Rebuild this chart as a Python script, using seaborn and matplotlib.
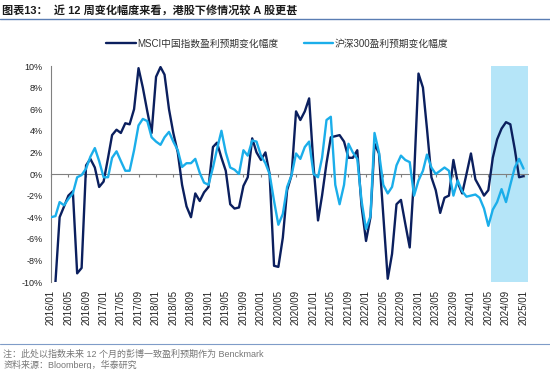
import numpy as np
import pandas as pd
import matplotlib
matplotlib.use('Agg')
import matplotlib.pyplot as plt
import matplotlib.dates as mdates
from matplotlib.lines import Line2D
import seaborn as sns

# monthly readings of the 12-week change (%), 2016/01 .. 2025/01
dates = pd.date_range('2016-01-01', '2025-01-01', freq='MS')

msci_chg = [
    np.nan, -10.0, -4.0, -3.0, -2.0, -1.6, -9.2, -8.7, 0.8, 1.4, 0.6, -1.2,     # 2016
    -0.7, 1.5, 3.6, 4.1, 3.8, 4.7, 4.6, 6.0, 9.8, 8.0, 5.8, 3.8,                # 2017
    9.0, 9.9, 9.2, 6.0, 3.8, 2.0, -1.0, -3.0, -4.0, -1.8, -2.5, -1.7,           # 2018
    -1.2, 2.5, 2.9, 1.5, 0.3, -2.8, -3.2, -3.1, -1.1, -0.3, 3.3, 2.0,           # 2019
    1.3, 2.0, 0.0, -8.5, -8.6, -5.9, -1.5, -0.1, 5.8, 5.0, 5.8, 7.0,            # 2020
    0.7, -4.3, -2.0, 1.0, 3.4, 3.5, 3.6, 3.0, 1.5, 1.5, 2.2, -3.0,              # 2021
    -6.2, -4.0, 2.8, 1.9, -3.8, -9.7, -7.4, -2.8, -2.4, -4.6, -6.8, -0.3,       # 2022
    9.3, 8.0, 4.2, -0.3, -1.5, -3.6, -2.2, -2.0, 1.3, -0.8, -1.8, 0.0,          # 2023
    1.9, -0.5, -1.2, -2.0, -1.5, 1.5, 3.2, 4.2, 4.8, 4.6, 2.3, -0.3,            # 2024
    -0.2,                                                                       # 2025
]

hs300_chg = [
    -4.0, -3.9, -2.6, -2.9, -2.3, -1.8, -0.3, -0.1, 0.5, 1.6, 2.4, 1.2,
    -0.3, -0.3, 1.5, 2.1, 1.2, 0.3, 0.3, 2.2, 4.5, 5.1, 4.9, 3.4,
    3.0, 2.7, 3.4, 3.9, 3.0, 2.2, 0.65, 1.0, 1.0, 1.4, 0.1, -0.8,
    -1.0, 0.6, 2.3, 4.0, 2.0, 0.6, 0.4, 0.0, 2.2, 1.7, 3.1, 3.0,
    1.7, 1.0, 0.0, -2.5, -4.7, -3.7, -1.2, -0.1, 1.9, 1.4, 2.5, 3.0,
    0.0, -0.3, 1.5, 5.0, 5.3, -1.0, -2.8, -1.0, 2.8, 2.0, 1.4, -2.5,
    -5.1, -3.9, 3.8, 2.0, -1.0, -1.8, -1.2, 0.8, 1.7, 1.3, 1.1, -2.0,
    -0.6, 0.3, 1.8, 0.6, 0.0, 0.3, 0.6, 0.3, -2.0, -0.6, -1.6, -2.1,
    -2.0, -1.9, -2.2, -3.2, -4.8, -3.3, -2.6, -1.4, -2.6, -1.0, 0.6, 1.4,
    0.5,
]

series_names = ['MSCI中国指数盈利预期变化幅度', '沪深300盈利预期变化幅度']
series_colors = ['#0B1F5E', '#1BAEEA']
tick_dates = pd.date_range('2016-01-01', '2025-01-01', freq='4MS')
y_ticks = list(range(-10, 11, 2))
highlight = (pd.Timestamp('2024-05-21'), pd.Timestamp('2025-02-01'))

title = '图表13：  近 12 周变化幅度来看，港股下修情况较 A 股更甚'
note = '注：此处以指数未来 12 个月的彭博一致盈利预期作为 Benckmark'
source = '资料来源：Bloomberg，华泰研究'

sns.set_style('white')
plt.rcParams['font.family'] = ['Liberation Sans', 'Noto Sans CJK SC', 'DejaVu Sans']

df = pd.DataFrame({
    'date': np.tile(dates, 2),
    'value': msci_chg + hs300_chg,
    'series': [series_names[0]] * len(dates) + [series_names[1]] * len(dates),
})

fig = plt.figure(figsize=(5.5, 3.69), dpi=100)
ax = fig.add_axes([51 / 550, 1 - 282 / 369, 477 / 550, 216 / 369])

ax.axvspan(*highlight, color='#B5E5F8', lw=0, zorder=0)
sns.lineplot(data=df, x='date', y='value', hue='series', hue_order=series_names,
             palette=series_colors, linewidth=1.7, ax=ax, zorder=3)

ax.set_xlim(pd.Timestamp('2016-01-01'), pd.Timestamp('2025-02-01'))
ax.set_ylim(-10, 10)
ax.set_xlabel('')
ax.set_ylabel('')

ax.set_yticks(y_ticks)
ax.set_yticklabels([f'{v}%' for v in y_ticks], fontsize=6.5, color='#222222')
ax.set_xticks(tick_dates)
ax.set_xticklabels([d.strftime('%Y/%m') for d in tick_dates], rotation=90,
                   fontsize=7, color='#222222')
ax.tick_params(axis='x', length=0, pad=5.5)
ax.tick_params(axis='y', length=3, width=0.8, color='#808080', direction='out', pad=3)

for side in ['top', 'right', 'bottom']:
    ax.spines[side].set_visible(False)
ax.spines['left'].set_color('#808080')
ax.spines['left'].set_linewidth(0.8)

# zero line with tick marks
zero_axis = ax.secondary_xaxis(0.5)
zero_axis.set_alignment('bottom')
zero_axis.set_xticks(mdates.date2num(tick_dates))
zero_axis.set_xticklabels([])
zero_axis.tick_params(length=2.5, width=0.8, color='#808080', direction='out')
zero_axis.spines['bottom'].set_color('#808080')
zero_axis.spines['bottom'].set_linewidth(0.8)

sns.move_legend(ax, 'center', bbox_to_anchor=(0.475, 1.105), ncol=2, frameon=False,
                title=None, fontsize=7, handlelength=3.0, columnspacing=2.6,
                handletextpad=0.2)
for text in ax.get_legend().get_texts():
    text.set_color('#333333')

fig.text(0.004, 1 - 10 / 369, title, fontsize=8, fontweight='bold', color='#1a1a1a',
         va='center', ha='left')
fig.add_artist(Line2D([0, 1], [1 - 19 / 369] * 2, color='#5A7DB3', lw=1.0))
fig.add_artist(Line2D([0, 1], [1 - 344 / 369] * 2, color='#7F9CC8', lw=0.8))
fig.text(0.006, 1 - 354 / 369, note, fontsize=6.5, color='#777777', va='center')
fig.text(0.006, 1 - 365 / 369, source, fontsize=6.5, color='#777777', va='center')

fig.savefig('out.png', dpi=100)
